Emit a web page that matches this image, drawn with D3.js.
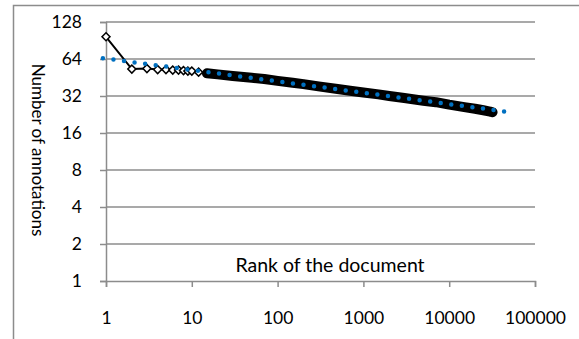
<!DOCTYPE html>
<html>
<head>
<meta charset="utf-8">
<script src="https://cdn.jsdelivr.net/npm/d3@7"></script>
<style>
  body { margin: 0; background: #fff; }
  text { font-family: Lato, "Open Sans", sans-serif; fill: #000; }
</style>
</head>
<body>
<div id="chart-area"></div>
<script>
// document rank vs number of annotations
var ranks  = [1, 2, 3, 4, 5, 6, 7, 8, 9, 10, 12, 15, 20, 30, 50, 70, 100, 150, 200, 300, 500, 700,
              1000, 1500, 2000, 3000, 5000, 7000, 10000, 15000, 20000, 25000, 30000, 32000];
var counts = [97, 53, 53.5, 52.5, 52.5, 52, 52, 51.5, 51, 51, 50, 49, 48, 46.5, 45, 44, 42.5, 41, 40, 38.3, 36.5, 35.3,
              34.2, 33, 32, 30.8, 29.3, 28.5, 27.2, 26, 25.2, 24.5, 23.9, 23.6];

// power trend line end points
var trendRanks  = [0.92, 45000];
var trendCounts = [65, 23.9];

var yTicks = [1, 2, 4, 8, 16, 32, 64, 128];
var xTicks = [1, 10, 100, 1000, 10000, 100000];

var width = 579, height = 339;
var plot = { left: 106, right: 535, top: 22, bottom: 281 };

var svg = d3.select("#chart-area").append("svg")
    .attr("width", width)
    .attr("height", height);

// outer frame (cut off by the picture on right and bottom)
svg.append("rect")
    .attr("x", 13.5).attr("y", 5.5)
    .attr("width", 700).attr("height", 500)
    .attr("fill", "none")
    .attr("stroke", "#8c8c8c")
    .attr("stroke-width", 1.5);

var x = d3.scaleLog().domain([1, 100000]).range([plot.left, plot.right]);
var y = d3.scaleLog().base(2).domain([1, 128]).range([plot.bottom, plot.top]);

// horizontal gridlines
svg.append("g")
    .selectAll("line")
    .data(yTicks.slice(1))
    .enter().append("line")
    .attr("x1", plot.left).attr("x2", plot.right)
    .attr("y1", function (d) { return y(d); })
    .attr("y2", function (d) { return y(d); })
    .attr("stroke", "#8c8c8c")
    .attr("stroke-width", 1.5);

// y axis
var yAxis = svg.append("g")
    .attr("transform", `translate(${plot.left}, 0)`)
    .call(d3.axisLeft(y).tickValues(yTicks).tickSize(6).tickPadding(18).tickFormat(d3.format("d")));
yAxis.select(".domain").attr("stroke", "#8c8c8c").attr("stroke-width", 1.5);
yAxis.selectAll(".tick line").attr("stroke", "#8c8c8c").attr("stroke-width", 1.5);
yAxis.selectAll("text").attr("font-size", "17.5px").attr("font-family", "Lato");

// x axis
var xAxis = svg.append("g")
    .attr("transform", `translate(0, ${plot.bottom})`)
    .call(d3.axisBottom(x).tickValues(xTicks).tickSize(6).tickPadding(25).tickFormat(d3.format("d")));
xAxis.select(".domain").attr("stroke", "#8c8c8c").attr("stroke-width", 1.5);
xAxis.selectAll(".tick line").attr("stroke", "#8c8c8c").attr("stroke-width", 1.5);
xAxis.selectAll("text").attr("font-size", "17.5px").attr("font-family", "Lato");

// axis titles
svg.append("text")
    .attr("x", 330).attr("y", 272)
    .attr("text-anchor", "middle")
    .attr("font-size", "19.5px")
    .text("Rank of the document");

svg.append("text")
    .attr("transform", "translate(32, 150) rotate(90)")
    .attr("text-anchor", "middle")
    .attr("font-size", "17px")
    .text("Number of annotations");

var pts = ranks.map(function (r, i) { return [r, counts[i]]; });
var line = d3.line()
    .x(function (d) { return x(d[0]); })
    .y(function (d) { return y(d[1]); });

// thin series line
svg.append("path")
    .datum(pts)
    .attr("d", line)
    .attr("fill", "none")
    .attr("stroke", "#000")
    .attr("stroke-width", 2);

// dense overlapping markers become a solid band
svg.append("path")
    .datum(pts.filter(function (d) { return d[0] >= 15; }))
    .attr("d", line)
    .attr("fill", "none")
    .attr("stroke", "#000")
    .attr("stroke-width", 10)
    .attr("stroke-linecap", "round")
    .attr("stroke-linejoin", "round");

// diamond markers
svg.append("g")
    .selectAll("path")
    .data(pts.filter(function (d) { return d[0] < 15; }))
    .enter().append("path")
    .attr("d", d3.symbol(d3.symbolSquare, 32))
    .attr("transform", function (d) { return `translate(${x(d[0])}, ${y(d[1])}) rotate(45)`; })
    .attr("fill", "#fff")
    .attr("stroke", "#000")
    .attr("stroke-width", 1.5);

// dotted power trend line
var trend = trendRanks.map(function (r, i) { return [r, trendCounts[i]]; });
svg.append("path")
    .datum(trend)
    .attr("d", line)
    .attr("fill", "none")
    .attr("stroke", "#0070c0")
    .attr("stroke-width", 4.5)
    .attr("stroke-linecap", "round")
    .attr("stroke-dasharray", "0 10.65");
</script>
</body>
</html>
